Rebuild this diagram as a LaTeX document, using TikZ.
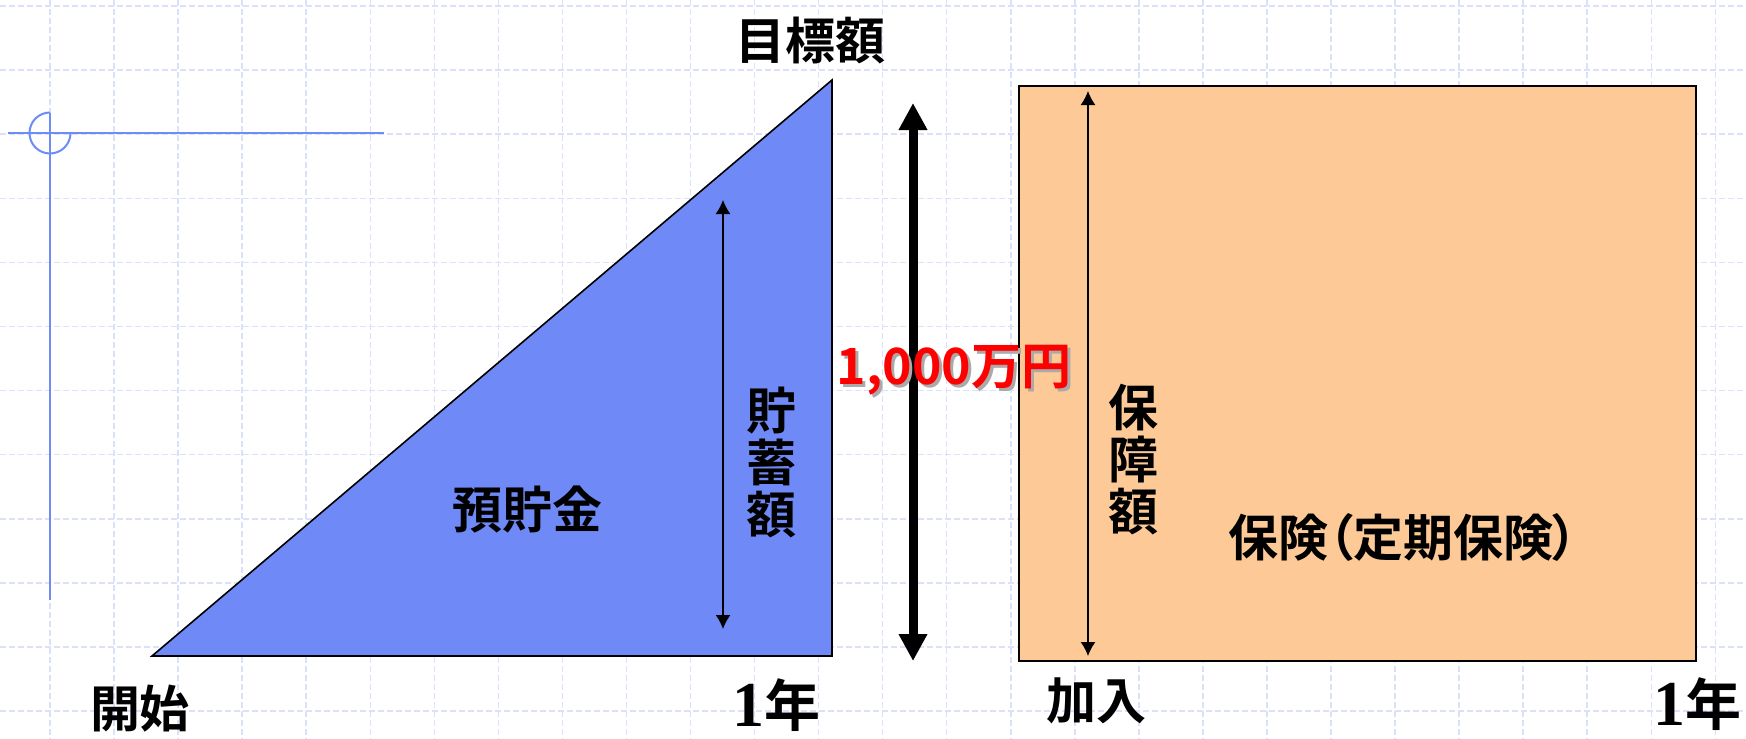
\documentclass[tikz,border=0pt]{standalone}
\usepackage{fontspec}
\newfontfamily\jpfont{Noto Sans CJK JP Bold}
\newfontfamily\jppalt{Noto Sans CJK JP Bold}[RawFeature=+palt]
\newfontfamily\serifnum{Liberation Serif Bold}
\usetikzlibrary{arrows.meta}
\definecolor{gridblue}{RGB}{218,225,249}
\definecolor{markblue}{RGB}{110,140,245}
\definecolor{saveblue}{RGB}{111,138,247}
\definecolor{insurorange}{RGB}{253,202,151}
\definecolor{shadowgray}{RGB}{170,170,170}

\begin{document}
\begin{tikzpicture}[x=0.5pt,y=-0.5pt,
      every node/.append style={inner sep=0pt,font=\jpfont\fontsize{25}{26}\selectfont},
      gridline/.style={draw=gridblue,line width=0.75pt,dash pattern=on 3pt off 1.5pt},
      markline/.style={draw=markblue,line width=1pt},
      shape edge/.style={draw=black,line width=0.8pt},
      span/.style={{Latex[length=7pt,width=7.5pt]}-{Latex[length=7pt,width=7.5pt]},line width=0.7pt},
      total/.style={{Triangle[length=13.5pt,width=13.5pt]}-{Triangle[length=13.5pt,width=13.5pt]},line width=4.5pt},
      stack/.style={align=center}]
    \useasboundingbox (0,0) rectangle (1746,739);
    \fill[white] (0,0) rectangle (1746,739);
    \foreach \i in {0,...,26}
      \draw[gridline] (50+64.05*\i,0) -- (50+64.05*\i,739);
    \foreach \j in {0,...,11}
      \draw[gridline] (0,6+64.1*\j) -- (1746,6+64.1*\j);
    \draw[markline] (8,133) -- (384,133);
    \draw[markline] (50,112.5) -- (50,600);
    \draw[markline] (50,112.5) arc[start angle=270,end angle=0,radius=20.5];
    \coordinate (start) at (152,656);
    \coordinate (goal) at (832,80);
    \coordinate (yearend) at (832,656);
    \filldraw[fill=saveblue,shape edge] (start) -- (goal) -- (yearend) -- cycle;
    \coordinate (joinTop) at (1019,86);
    \coordinate (endBot) at (1696,661);
    \filldraw[fill=insurorange,shape edge] (joinTop) rectangle (endBot);
    \coordinate (saveTop) at (723,200);
    \coordinate (saveBot) at (723,629);
    \draw[span] (saveTop) -- (saveBot);
    \coordinate (coverTop) at (1088,91);
    \coordinate (coverBot) at (1088,656);
    \draw[span] (coverTop) -- (coverBot);
    \coordinate (totalTop) at (913,103);
    \coordinate (totalBot) at (913,661);
    \draw[total] (totalTop) -- (totalBot);
    \node (target) at (810,40) {目標額};
    \node (begin) at (140,709) {開始};
    \node (year1) at (776,705) {{\serifnum\fontsize{32}{32}\selectfont 1}{\fontsize{28}{28}\selectfont 年}};
    \node (join) at (1096,701) {加入};
    \node (year2) at (1697,704) {{\serifnum\fontsize{32}{32}\selectfont 1}{\fontsize{28}{28}\selectfont 年}};
    \node (deposit) at (527,509) {預貯金};
    \node[stack] (savings) at (771,462) {貯\\蓄\\額};
    \node[stack] (cover) at (1133,460) {保\\障\\額};
    \node[font=\jppalt\fontsize{25}{26}\selectfont] (insurance) at (1403,537) {保険（定期保険）};
    \node[text=shadowgray] (amountshadow) at (957,373) {1,000万円};
    \node[text=red] (amount) at (954,370) {1,000万円};
\end{tikzpicture}
\end{document}
